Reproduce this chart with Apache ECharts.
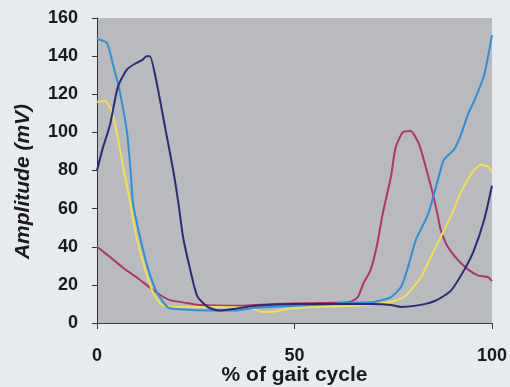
<!DOCTYPE html>
<html>
<head>
<meta charset="utf-8">
<script src="https://cdn.jsdelivr.net/npm/echarts@6/dist/echarts.min.js"></script>
<style>
html,body{margin:0;padding:0;background:#e7ebef;}
#c{width:510px;height:387px;}
</style>
</head>
<body>
<div id="c"></div>
<script>
// % of gait cycle vs amplitude (mV)
const xTicks = [0, 50, 100];
const yTicks = [0, 20, 40, 60, 80, 100, 120, 140, 160];

const navyData = [[0,80],[1.5,92],[3.3,104],[5.3,124],[7.6,133],[9.6,136],[11.5,138],[12.5,140],[13.4,140],[15.2,125],[17.3,102],[19.3,80],[20.6,63],[21.8,45],[23.6,28],[25.4,14],[28,8.5],[31,6.5],[35,7.5],[40,9],[50,10],[60,10],[70,10],[74.4,9.5],[77,8.4],[82,9.5],[86,12],[89.6,17],[93,28],[95.4,38],[98,54],[100,72]];
const blueData = [[0,149],[2.5,147],[4,136],[5.8,121],[7.6,100],[8.5,80],[9.1,63],[10.9,45],[13,28],[15.2,16],[17.8,8.4],[20,7.3],[30,6.5],[35,6.5],[40,8],[50,9],[60,10],[61.7,10.5],[70,11],[74.4,13.6],[77,19],[78.7,29],[80.7,43.5],[83.8,57],[86.3,75],[87.8,85.5],[90.4,91],[92,98],[94,110],[95.4,116],[98,130],[100,151]];
const yellowData = [[0,116],[2,116.5],[3.3,113],[4,109],[5.3,97],[6.6,82],[8.4,63],[10,45],[12.2,28],[14.2,16],[16.5,9.4],[20,8.4],[30,8.4],[38.8,7.9],[42,5.8],[45,6],[47,7],[54,8.4],[65,9],[72.6,10.5],[77.7,13.6],[82,24],[84.5,34.6],[87,45],[89.8,57],[92,68],[95,79],[97.2,83],[99,82],[100,79]];
const magentaData = [[0,40],[3.3,34.6],[6.6,29],[10,24],[13.5,18.4],[16,14.7],[18.5,12],[22.8,10.5],[26,9.4],[35,9],[45,10],[55,10.5],[64,11],[66,13.6],[67.5,21],[69.3,28],[71,42],[72.3,57],[74.4,76.6],[75.6,92],[77.4,100],[79.4,100.7],[81.5,94],[83.2,82],[85,68],[86.3,56],[87,49],[88.8,40],[91.4,33],[94,28],[96.4,25],[99,24],[100,22]];

const chart = echarts.init(document.getElementById('c'));
const lbl = {fontFamily:'Liberation Sans, Arial, sans-serif', fontWeight:'bold', fontSize:18, color:'#1a1a1a'};
function line(name, data, color){
  return {name, type:'line', data, smooth:0.2, symbol:'none', lineStyle:{color, width:2}, itemStyle:{color}};
}
chart.setOption({
  animation:false,
  backgroundColor:'#e7ebef',
  grid:{left:97, right:18, top:18, bottom:64, show:true, backgroundColor:'#b8babe', borderWidth:0,
        containLabel:false, outerBoundsMode:'none'},
  xAxis:{type:'value', min:xTicks[0], max:xTicks[xTicks.length-1], interval:50,
    name:'% of gait cycle', nameLocation:'middle', nameGap:42, nameMoveOverlap:false,
    nameTextStyle:{fontFamily:'Liberation Sans, Arial, sans-serif', fontWeight:'bold', fontSize:21, color:'#1a1a1a'},
    axisLine:{show:true, lineStyle:{color:'#3a3a3a', width:1}},
    axisTick:{show:true, length:6, lineStyle:{color:'#3a3a3a'}},
    axisLabel:Object.assign({margin:24}, lbl),
    splitLine:{show:false}},
  yAxis:{type:'value', min:yTicks[0], max:yTicks[yTicks.length-1], interval:20,
    name:'Amplitude (mV)', nameLocation:'middle', nameGap:63, nameMoveOverlap:false,
    nameTextStyle:{fontFamily:'Liberation Sans, Arial, sans-serif', fontWeight:'bold', fontStyle:'italic', fontSize:21, color:'#1a1a1a', padding:[0,22,0,0]},
    axisLine:{show:true, lineStyle:{color:'#333', width:1}},
    axisTick:{show:true, length:5, lineStyle:{color:'#333'}},
    axisLabel:Object.assign({margin:19}, lbl),
    splitLine:{show:false}},
  series:[
    line('magenta', magentaData, '#b0336f'),
    line('yellow', yellowData, '#f0df4e'),
    line('blue', blueData, '#2f8fd8'),
    line('navy', navyData, '#2a2b78')
  ]
});
</script>
</body>
</html>
